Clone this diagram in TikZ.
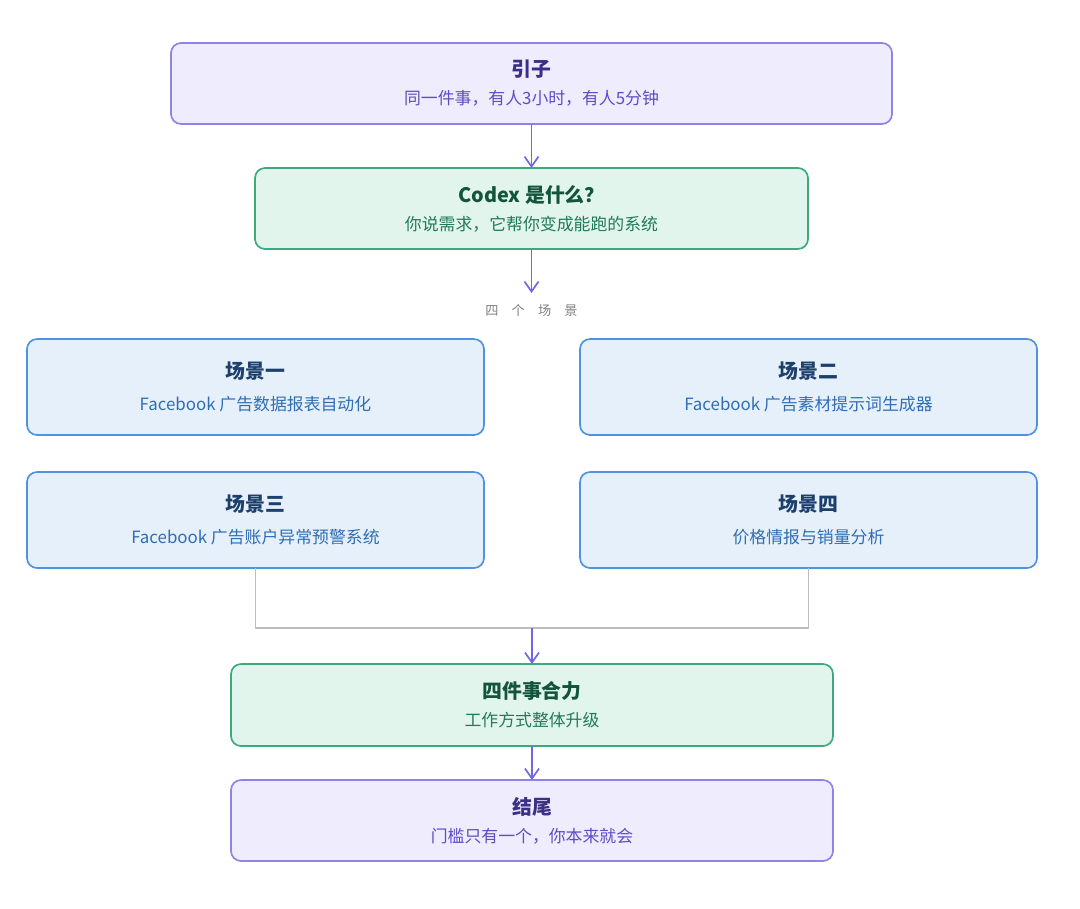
\documentclass[tikz,border=0pt]{standalone}
\usepackage{fontspec}
\setmainfont{Noto Sans CJK SC}
\usepackage{xcolor}
\usepackage{tikz}
\usetikzlibrary{arrows.meta,positioning,calc}
\definecolor{introfill}{HTML}{EFECFD}
\definecolor{introdraw}{HTML}{8E83E6}
\definecolor{introhead}{HTML}{3B2F86}
\definecolor{introtext}{HTML}{5E4DC4}
\definecolor{keyfill}{HTML}{E1F5EC}
\definecolor{keydraw}{HTML}{3DAA7E}
\definecolor{keyhead}{HTML}{13553A}
\definecolor{keytext}{HTML}{237A57}
\definecolor{scenefill}{HTML}{E6F0FA}
\definecolor{scenedraw}{HTML}{4F93E0}
\definecolor{scenehead}{HTML}{1D3F6B}
\definecolor{scenetext}{HTML}{2F6DB5}
\definecolor{flowcol}{HTML}{6F66EA}
\definecolor{joincol}{HTML}{BDBDBD}
\newcommand{\boxtext}[3][4pt]{{\fontsize{11.3}{13}\bfseries #2}\\[#1]{\fontsize{9.6}{11.5}\selectfont #3}}
\tikzset{
  box/.style={draw, rounded corners=2mm, align=center, line width=0.95pt,
              inner sep=2pt, outer sep=0pt, minimum height=16.2mm},
  introbox/.style={box, fill=introfill, draw=introdraw, text=introtext},
  keybox/.style={box, fill=keyfill, draw=keydraw, text=keytext},
  scenebox/.style={box, fill=scenefill, draw=scenedraw, text=scenetext,
                   minimum width=91.4mm, minimum height=19.2mm},
  flow/.style={-{Straight Barb[length=2mm,width=2.8mm]}, line width=0.95pt, draw=flowcol},
  joinline/.style={draw=joincol, line width=0.95pt},
  lbl/.style={font=\fontsize{7.5}{9}\selectfont, text=black!50, inner sep=0pt},
}
\begin{document}
\begin{tikzpicture}
  \node[introbox, minimum width=144.2mm] (intro)
    {\boxtext{\color{introhead}引子}{同一件事，有人3小时，有人5分钟}};
  \node[keybox, below=8.8mm of intro, minimum width=110.6mm] (codex)
    {\boxtext{\color{keyhead}Codex 是什么？}{你说需求，它帮你变成能跑的系统}};
  \coordinate[below=8.8mm of codex] (split);
  \node[lbl, below=11mm of codex] (four)
    {四\hspace{1em}个\hspace{1em}场\hspace{1em}景};
  \node[scenebox, below=18mm of codex, xshift=-55.2mm] (s1)
    {\boxtext[6pt]{\color{scenehead}场景一}{Facebook 广告数据报表自动化}};
  \node[scenebox, right=19.2mm of s1] (s2)
    {\boxtext[6pt]{\color{scenehead}场景二}{Facebook 广告素材提示词生成器}};
  \node[scenebox, below=7.4mm of s1] (s3)
    {\boxtext[6pt]{\color{scenehead}场景三}{Facebook 广告账户异常预警系统}};
  \node[scenebox, right=19.2mm of s3] (s4)
    {\boxtext[6pt]{\color{scenehead}场景四}{价格情报与销量分析}};
  \coordinate (join) at ($(s3.south)!0.5!(s4.south)+(0,-12mm)$);
  \node[keybox, below=7.2mm of join, minimum width=120.4mm, minimum height=16.4mm] (combine)
    {\boxtext{\color{keyhead}四件事合力}{工作方式整体升级}};
  \node[introbox, below=6.8mm of combine, minimum width=120.4mm] (ending)
    {\boxtext{\color{introhead}结尾}{门槛只有一个，你本来就会}};
  \draw[flow] (intro) -- (codex);
  \draw[flow] (codex) -- (split);
  \draw[joinline] (s3.south) |- (join) -| (s4.south);
  \draw[flow] (join) -- (combine);
  \draw[flow] (combine) -- (ending);
  \useasboundingbox ($(intro.north west)+(-34.2mm,8.6mm)$) rectangle ++(216mm,-181.6mm);
\end{tikzpicture}
\end{document}
